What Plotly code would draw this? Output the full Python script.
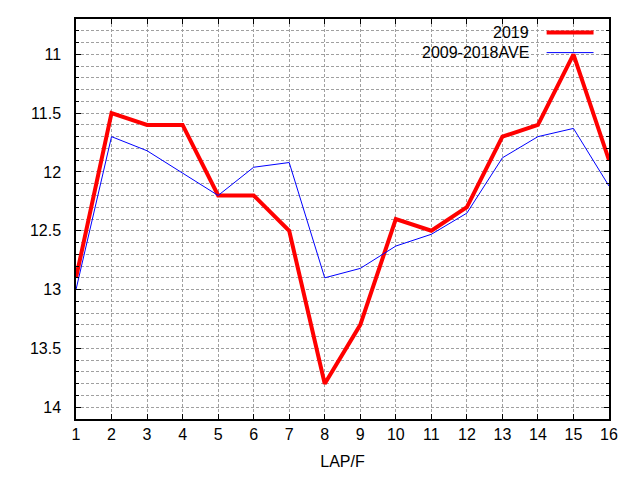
import plotly.graph_objects as go

laps = list(range(1, 17))
y2019 = [12.9, 11.5, 11.6, 11.6, 12.2, 12.2, 12.5, 13.8, 13.3, 12.4, 12.5, 12.3, 11.7, 11.6, 11.0, 11.9]
yave = [13.0, 11.7, 11.82, 12.01, 12.2, 11.96, 11.92, 12.9, 12.82, 12.63, 12.53, 12.35, 11.88, 11.70, 11.63, 12.12]
names = ["2019", "2009-2018AVE"]
colors = ["#ff0000", "#0000ff"]
widths = [4, 1]

font = dict(family="Liberation Sans, Arial, sans-serif", size=16, color="#000000")

fig = go.Figure()
for name, ys, c, w in zip(names, [y2019, yave], colors, widths):
    fig.add_trace(go.Scatter(x=laps, y=ys, mode="lines", name=name,
                             line=dict(color=c, width=w), showlegend=False))

# legend box (gnuplot style: text then line sample)
fig.add_shape(type="rect", xref="paper", yref="paper", x0=0.63, x1=0.995, y0=0.905, y1=0.995,
              fillcolor="white", line=dict(width=0), layer="between")
for i, (name, c, w) in enumerate(zip(names, colors, widths)):
    yy = 0.966 - i * 0.05
    fig.add_annotation(x=0.853, y=yy, xref="paper", yref="paper", text=name, showarrow=False,
                       xanchor="right", yanchor="middle", font=font)
    fig.add_shape(type="line", xref="paper", yref="paper", x0=0.883, x1=0.971, y0=yy, y1=yy,
                  line=dict(color=c, width=w), layer="above")

grid = dict(showgrid=True, gridcolor="#a0a0a0", griddash="3px,2px", gridwidth=1)

fig.update_xaxes(range=[1, 16], tickmode="linear", tick0=1, dtick=1,
                 ticks="inside", ticklen=5, tickcolor="#000000",
                 showline=True, linecolor="#000000", linewidth=1.5, mirror="ticks",
                 zeroline=False, tickfont=font, title=dict(text="LAP/F", font=font, standoff=14),
                 **grid)
fig.update_yaxes(range=[14.1, 10.7], tickmode="linear", tick0=11, dtick=0.5,
                 ticks="inside", ticklen=5, tickcolor="#000000",
                 showline=True, linecolor="#000000", linewidth=1.5, mirror="ticks",
                 zeroline=False, tickfont=font, ticklabelstandoff=10,
                 minor=dict(dtick=0.1, ticks="inside", ticklen=3, tickcolor="#000000",
                            showgrid=True, gridcolor="#a0a0a0", griddash="3px,2px"),
                 **grid)

fig.update_layout(width=640, height=480, margin=dict(l=76, r=31, t=19, b=61),
                  paper_bgcolor="white", plot_bgcolor="white", font=font)

fig.write_html("out.html", config={"displayModeBar": False},
               post_script="document.body.style.margin='0';")
